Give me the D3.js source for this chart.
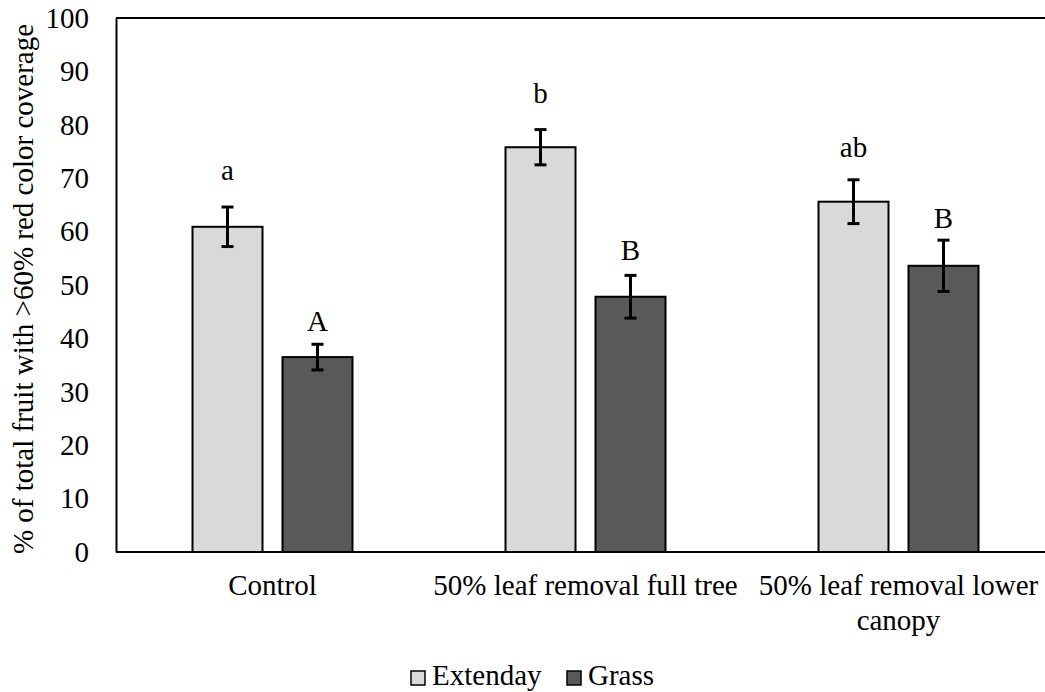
<!DOCTYPE html>
<html>
<head>
<meta charset="utf-8">
<script src="https://cdn.jsdelivr.net/npm/d3@7"></script>
<style>
  html, body { margin: 0; padding: 0; background: #fff; }
  svg { display: block; }
</style>
</head>
<body>
<svg id="chart" width="1045" height="692"></svg>
<script>
const categories = ["Control", "50% leaf removal full tree", "50% leaf removal lower canopy"];
const seriesNames = ["Extenday", "Grass"];
const extendayValues = [60.9, 75.8, 65.6];
const grassValues = [36.5, 47.8, 53.6];
const extendayErrors = [3.7, 3.3, 4.1];
const grassErrors = [2.4, 4.0, 4.8];
const extendayLetters = ["a", "b", "ab"];
const grassLetters = ["A", "B", "B"];
const extendayLetterPos = [69.7, 84.1, 74.0];
const grassLetterPos = [41.4, 54.7, 60.7];
const yTicks = [0, 10, 20, 30, 40, 50, 60, 70, 80, 90, 100];
const yTitle = "% of total fruit with >60% red color coverage";
const colors = ["#d9d9d9", "#595959"];

const FONT = '"Liberation Serif", "Times New Roman", "DejaVu Serif", serif';
const FS = "29px";

const svg = d3.select("#chart");
const mLeft = 116, mRight = 1055, mTop = 18, mBottom = 552;

const x0 = d3.scaleBand().domain(categories).range([mLeft, mRight]).paddingInner(0).paddingOuter(0);
const outer = (x0.bandwidth() - 160) / 2;
const x1 = d3.scaleBand().domain(seriesNames).range([outer, x0.bandwidth() - outer]).paddingInner(20 / 90).paddingOuter(0);
const y = d3.scaleLinear().domain([0, 100]).range([mBottom, mTop]);

const series = [
  { name: "Extenday", values: extendayValues, errors: extendayErrors, letters: extendayLetters, pos: extendayLetterPos, color: colors[0] },
  { name: "Grass", values: grassValues, errors: grassErrors, letters: grassLetters, pos: grassLetterPos, color: colors[1] }
];

function styleText(sel) {
  sel.style("font-family", FONT).style("font-size", FS).style("fill", "#000");
}

// top border
svg.append("line").attr("x1", mLeft).attr("x2", mRight).attr("y1", y(100)).attr("y2", y(100))
  .attr("stroke", "#000").attr("stroke-width", 2);

// bars
series.forEach(s => {
  const g = svg.append("g");
  categories.forEach((c, i) => {
    const bx = x0(c) + x1(s.name);
    const bw = x1.bandwidth();
    g.append("rect").attr("x", bx).attr("y", y(s.values[i])).attr("width", bw)
      .attr("height", y(0) - y(s.values[i])).attr("fill", s.color).attr("stroke", "#000").attr("stroke-width", 2);
    const cx = bx + bw / 2;
    const hi = y(s.values[i] + s.errors[i]), lo = y(s.values[i] - s.errors[i]);
    g.append("line").attr("x1", cx).attr("x2", cx).attr("y1", hi).attr("y2", lo).attr("stroke", "#000").attr("stroke-width", 3);
    g.append("line").attr("x1", cx - 6).attr("x2", cx + 6).attr("y1", hi).attr("y2", hi).attr("stroke", "#000").attr("stroke-width", 3);
    g.append("line").attr("x1", cx - 6).attr("x2", cx + 6).attr("y1", lo).attr("y2", lo).attr("stroke", "#000").attr("stroke-width", 3);
    g.append("text").attr("x", cx).attr("y", y(s.pos[i])).attr("text-anchor", "middle")
      .call(styleText).text(s.letters[i]);
  });
});

// y axis
const yAxis = svg.append("g").attr("transform", `translate(${mLeft},0)`)
  .call(d3.axisLeft(y).tickValues(yTicks).tickSize(0).tickPadding(27));
yAxis.select(".domain").attr("stroke", "#000").attr("stroke-width", 2);
yAxis.selectAll("text").call(styleText);

// x axis
const xAxis = svg.append("g").attr("transform", `translate(0,${mBottom})`)
  .call(d3.axisBottom(x0).tickSize(0).tickPadding(0));
xAxis.select(".domain").attr("stroke", "#000").attr("stroke-width", 2).attr("d", `M${mLeft},0H${mRight}`);
xAxis.selectAll("text").call(styleText).attr("y", 43).attr("dy", null)
  .each(function(d) {
    const t = d3.select(this);
    const words = d.split(" ");
    t.text(null);
    let line = [];
    let tspan = t.append("tspan").attr("x", 0).attr("dy", 0);
    words.forEach(w => {
      line.push(w);
      tspan.text(line.join(" "));
      if (tspan.node().getComputedTextLength() > x0.bandwidth() && line.length > 1) {
        line.pop();
        tspan.text(line.join(" "));
        line = [w];
        tspan = t.append("tspan").attr("x", 0).attr("dy", 35).text(w);
      }
    });
  });

// y title
svg.append("text").attr("transform", `translate(33,289) rotate(-90)`)
  .attr("text-anchor", "middle").call(styleText).text(yTitle);

// legend
const legend = svg.append("g");
const legendX = [411, 567];
series.forEach((s, i) => {
  legend.append("rect").attr("x", legendX[i]).attr("y", 671).attr("width", 14).attr("height", 14)
    .attr("fill", s.color).attr("stroke", "#000").attr("stroke-width", 1.5);
  legend.append("text").attr("x", legendX[i] + 21).attr("y", 685)
    .call(styleText).text(s.name);
});
</script>
</body>
</html>
